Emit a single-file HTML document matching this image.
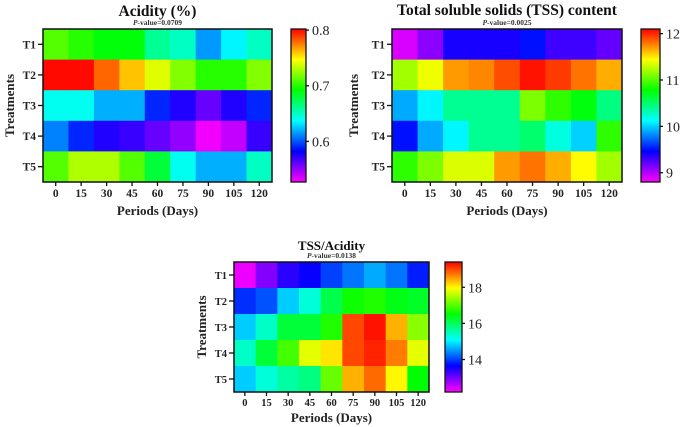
<!DOCTYPE html>
<html><head><meta charset="utf-8"><style>
html,body{margin:0;padding:0;background:#fff;}
svg{display:block;font-family:"Liberation Serif",serif;}
</style></head><body>
<svg id="chart" width="685" height="427" viewBox="0 0 685 427" xmlns="http://www.w3.org/2000/svg"></svg>
<script>
const periods = ["0","15","30","45","60","75","90","105","120"];
const treatments = ["T1","T2","T3","T4","T5"];

const acidityValues = [
  [0.71,0.70,0.69,0.69,0.66,0.65,0.615,0.635,0.65],
  [0.80,0.80,0.78,0.76,0.74,0.72,0.70,0.70,0.72],
  [0.64,0.64,0.62,0.62,0.59,0.575,0.56,0.575,0.59],
  [0.61,0.59,0.575,0.57,0.56,0.55,0.53,0.54,0.57],
  [0.71,0.73,0.73,0.71,0.68,0.64,0.62,0.62,0.65]
];
const acidityTicks = [0.6,0.7,0.8];
const acidityTickLabels = ["0.6","0.7","0.8"];

const tssValues = [
  [8.9,9.1,9.4,9.4,9.4,9.5,9.3,9.3,9.2],
  [11.2,11.4,11.7,11.75,11.9,12.05,11.95,11.8,11.65],
  [9.9,10.1,10.4,10.4,10.4,11.1,10.9,10.75,10.45],
  [9.5,9.9,10.1,10.4,10.4,10.5,10.2,10.0,10.9],
  [10.9,11.1,11.35,11.35,11.7,11.8,11.65,11.45,11.2]
];
const tssTicks = [9,10,11,12];
const tssTickLabels = ["9","10","11","12"];

const ratioValues = [
  [12.3,12.9,13.4,13.6,14.0,14.3,14.6,14.3,13.8],
  [13.9,14.1,14.8,15.3,16.1,16.6,16.7,16.4,16.3],
  [14.8,15.4,16.2,16.2,16.7,19.0,19.3,18.4,17.3],
  [15.4,16.2,16.9,17.8,18.1,19.0,19.2,18.7,17.8],
  [14.8,15.3,15.6,15.8,17.1,18.4,18.8,18.0,16.5]
];
const ratioTicks = [14,16,18];
const ratioTickLabels = ["14","16","18"];

const NS = "http://www.w3.org/2000/svg";
const svg = document.getElementById("chart");
function mk(tag, attrs, parent){
  const e = document.createElementNS(NS, tag);
  for (const k in attrs) e.setAttribute(k, attrs[k]);
  (parent||svg).appendChild(e);
  return e;
}
function color(t){
  t = Math.max(0, Math.min(1, t));
  return "hsl(" + (300*(1-t)) + ",100%,50%)";
}

function heatmap(id, cfg, values, ticks, tickLabels){
  const g = mk("g", {});
  
  
  const nx = periods.length, ny = treatments.length;
  const cw = (cfg.x1 - cfg.x0) / nx, ch = (cfg.y1 - cfg.y0) / ny;
  const sx = i => cfg.x0 + i * cw;
  const sy = j => cfg.y0 + j * ch;
  const norm = v => (v - cfg.vmin) / (cfg.vmax - cfg.vmin);
  values.forEach((row, j) => row.forEach((v, i) => {
    const r = mk("rect", {x: sx(i), y: sy(j), width: cw + 0.5, height: ch + 0.5, fill: color(norm(v))}, g);
    
    
  }));
  const frame = mk("rect", {x: cfg.x0, y: cfg.y0, width: cfg.x1 - cfg.x0, height: cfg.y1 - cfg.y0, fill: "none", stroke: "#111", "stroke-width": 1.5}, g);
  
  
  periods.forEach((p, i) => {
    const cx = sx(i) + cw / 2;
    mk("line", {x1: cx, x2: cx, y1: cfg.y1, y2: cfg.y1 + 4, stroke: "#111", "stroke-width": 1.3}, g);
    const t = mk("text", {x: cx, y: cfg.y1 + cfg.xlabOff, "text-anchor": "middle", "font-size": cfg.tickSize, "font-weight": "bold", fill: "#222"}, g);
    t.textContent = p;
    
    
  });
  treatments.forEach((tr, j) => {
    const cy = sy(j) + ch / 2;
    mk("line", {x1: cfg.x0 - 5, x2: cfg.x0, y1: cy, y2: cy, stroke: "#111", "stroke-width": 1.3}, g);
    const t = mk("text", {x: cfg.x0 - 7, y: cy + 4, "text-anchor": "end", "font-size": cfg.tickSize, "font-weight": "bold", fill: "#222"}, g);
    t.textContent = tr;
    
    
  });
  const xt = mk("text", {x: (cfg.x0 + cfg.x1) / 2, y: cfg.y1 + cfg.xtitleOff, "text-anchor": "middle", "font-size": 13, "font-weight": "bold", fill: "#222"}, g);
  xt.textContent = "Periods (Days)";
  
  
  const ymid = (cfg.y0 + cfg.y1) / 2;
  const yt = mk("text", {x: cfg.ylabX, y: ymid, "text-anchor": "middle", "font-size": 13, "font-weight": "bold", fill: "#222", transform: "rotate(-90 " + cfg.ylabX + " " + ymid + ")"}, g);
  yt.textContent = "Treatments";
  
  
  const title = mk("text", {x: (cfg.x0 + cfg.x1) / 2, y: cfg.titleY, "text-anchor": "middle", "font-size": cfg.titleSize, "font-weight": "bold", fill: "#111"}, g);
  title.textContent = cfg.title;
  
  
  const pv = mk("text", {x: (cfg.x0 + cfg.x1) / 2, y: cfg.y0 - 4, "text-anchor": "middle", "font-size": 7.5, "font-weight": "bold", fill: "#333"}, g);
  const pi = mk("tspan", {"font-style": "italic"}, pv); pi.textContent = "P";
  const pr = mk("tspan", {}, pv); pr.textContent = "-value=" + cfg.pval;
  
  
  const gid = id + "-grad";
  const defs = mk("defs", {}, g);
  const lg = mk("linearGradient", {id: gid, x1: 0, y1: 1, x2: 0, y2: 0}, defs);
  for (let k = 0; k <= 10; k++) mk("stop", {offset: k / 10, "stop-color": color(k / 10)}, lg);
  const cb = mk("rect", {x: cfg.cbx, y: cfg.y0, width: cfg.cbw, height: cfg.y1 - cfg.y0, fill: "url(#" + gid + ")", stroke: "#111", "stroke-width": 1.3}, g);
  
  
  const cy = v => cfg.y1 - norm(v) * (cfg.y1 - cfg.y0);
  ticks.forEach((v, k) => {
    const y = cy(v);
    mk("line", {x1: cfg.cbx + cfg.cbw, x2: cfg.cbx + cfg.cbw + 3, y1: y, y2: y, stroke: "#111", "stroke-width": 1.3}, g);
    const t = mk("text", {x: cfg.cbx + cfg.cbw + 6, y: y + 5, "font-size": 14, fill: "#222"}, g);
    t.textContent = tickLabels[k];
    
    
  });
}

heatmap("acidity", {x0:43,x1:272,y0:29,y1:182,vmin:0.527,vmax:0.802,cbx:291,cbw:15,ylabX:14,title:"Acidity (%)",titleY:16,titleSize:15.5,pval:"0.0709",xlabOff:15,xtitleOff:33,tickSize:11.5}, acidityValues, acidityTicks, acidityTickLabels);
heatmap("tss", {x0:392,x1:622,y0:29,y1:182,vmin:8.8,vmax:12.1,cbx:641,cbw:19,ylabX:358,title:"Total soluble solids (TSS) content",titleY:15,titleSize:15.5,pval:"0.0025",xlabOff:15,xtitleOff:33,tickSize:11.5}, tssValues, tssTicks, tssTickLabels);
heatmap("ratio", {x0:234,x1:429,y0:262,y1:392,vmin:12.2,vmax:19.4,cbx:445,cbw:17,ylabX:206,title:"TSS/Acidity",titleY:250,titleSize:13,pval:"0.0138",xlabOff:14,xtitleOff:30,tickSize:10.5}, ratioValues, ratioTicks, ratioTickLabels);
</script>
</body></html>
